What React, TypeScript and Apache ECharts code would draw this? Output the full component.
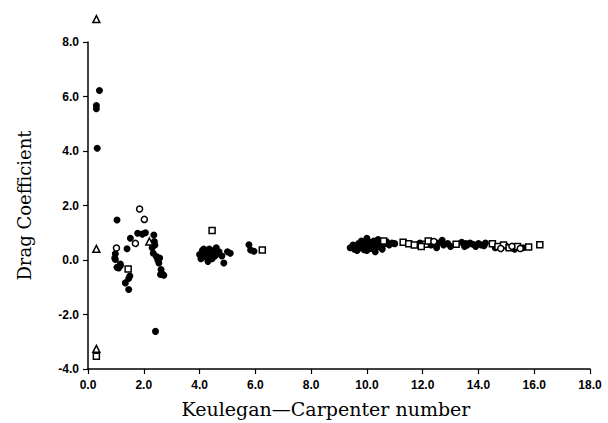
import React, { useEffect, useRef } from "react";
import * as echarts from "echarts";

const xTicks = [0, 2, 4, 6, 8, 10, 12, 14, 16, 18];
const yTicks = [-4, -2, 0, 2, 4, 6, 8];

const filledPoints: number[][] = [
  [0.41, 6.22], [0.3, 5.67], [0.3, 5.55], [0.33, 4.1],
  [1.04, 1.47], [1.78, 0.98], [2.06, 1.0], [2.36, 0.92], [2.38, 0.68], [1.52, 0.8],
  [1.4, 0.41], [0.98, 0.23], [0.96, 0.07], [0.98, 0.02], [1.16, -0.15], [1.1, -0.29],
  [1.04, -0.27], [1.16, -0.21], [2.34, 0.25], [2.45, 0.13], [2.5, 0.01], [2.57, 0.07],
  [2.54, -0.11], [2.62, -0.35], [2.66, -0.51], [2.72, -0.56], [2.6, -0.53], [1.5, -0.59],
  [1.46, -0.68], [1.34, -0.84], [1.46, -1.08], [2.42, -2.62], [2.3, 0.45], [2.4, 0.55], [1.95, 0.95],
  [4.0, 0.2], [4.05, 0.05], [4.1, 0.35], [4.15, 0.15], [4.2, 0.3], [4.25, 0.1], [4.3, 0.25],
  [4.35, 0.4], [4.4, 0.2], [4.45, 0.05], [4.5, 0.35], [4.55, 0.15], [4.6, 0.45], [4.65, 0.25],
  [4.7, 0.3], [4.8, 0.15], [4.87, -0.11], [5.0, 0.3], [5.1, 0.25], [4.15, 0.4], [4.3, -0.05],
  [5.83, 0.37], [5.95, 0.32], [5.77, 0.56],
  [9.4, 0.45], [9.5, 0.55], [9.55, 0.4], [9.6, 0.5], [9.7, 0.6], [9.75, 0.45], [9.8, 0.7],
  [9.85, 0.5], [9.9, 0.38], [9.95, 0.6], [10.0, 0.8], [10.05, 0.5], [10.1, 0.65], [10.15, 0.42],
  [10.2, 0.55], [10.25, 0.7], [10.3, 0.48], [10.35, 0.6], [10.4, 0.75], [10.45, 0.5], [10.5, 0.62],
  [10.55, 0.4], [10.6, 0.58], [10.7, 0.68], [10.8, 0.55], [10.9, 0.62], [11.0, 0.6], [10.0, 0.35],
  [10.3, 0.3], [9.65, 0.35],
  [11.9, 0.62], [12.3, 0.55], [12.5, 0.45], [12.55, 0.62], [12.7, 0.72], [12.75, 0.55], [12.9, 0.6],
  [13.0, 0.5], [13.55, 0.6], [13.4, 0.65], [13.5, 0.5], [13.6, 0.55], [13.7, 0.62], [13.8, 0.58],
  [13.9, 0.5], [14.0, 0.6], [14.1, 0.55], [14.2, 0.52], [14.25, 0.62], [14.6, 0.45], [15.0, 0.5],
  [15.3, 0.4], [15.6, 0.45],
];

const squarePoints: number[][] = [
  [11.3, 0.65], [11.5, 0.6], [11.7, 0.55], [12.1, 0.58], [12.2, 0.7], [11.95, 0.5], [13.2, 0.58],
  [14.5, 0.6], [14.7, 0.5], [14.9, 0.55], [15.1, 0.45], [15.4, 0.5], [15.8, 0.48], [16.2, 0.56],
  [4.45, 1.08], [6.25, 0.37], [1.44, -0.33], [0.3, -3.53], [10.6, 0.7],
];

const circlePoints: number[][] = [
  [1.85, 1.87], [2.02, 1.49], [1.02, 0.44], [1.7, 0.61], [14.8, 0.42], [15.2, 0.5], [15.5, 0.42], [12.4, 0.68],
];

const trianglePoints: number[][] = [
  [0.3, 8.84], [0.3, 0.41], [0.3, -3.26], [2.2, 0.68],
];

const xName = "Keulegan\u2014Carpenter number";
const yName = "Drag Coefficient";

export default function App() {
  const ref = useRef<HTMLDivElement>(null);
  useEffect(() => {
    if (!ref.current) return;
    const chart = echarts.init(ref.current, null, { renderer: "svg" });
    const labelStyle = {
      color: "#000",
      fontFamily: "Liberation Sans",
      fontWeight: "bold" as const,
      fontSize: 12,
    };
    const axisLine = { show: true, onZero: false, lineStyle: { color: "#000", width: 1.5 } };
    const base = { type: "scatter" as const, clip: false, symbolSize: 7 };
    const openStyle = { color: "#fff", borderColor: "#000", borderWidth: 1.5, opacity: 1 };
    chart.setOption({
      animation: false,
      backgroundColor: "#fff",
      grid: { left: 88, right: 18, top: 42, bottom: 51 },
      xAxis: {
        type: "value",
        min: 0,
        max: 18,
        interval: 2,
        name: xName,
        nameLocation: "middle",
        nameGap: 30,
        nameTextStyle: { fontFamily: "DejaVu Serif", fontSize: 19, color: "#000", padding: [0, 26, 0, 0] },
        axisLine,
        axisTick: { show: true, length: 5, lineStyle: { color: "#000", width: 1.2 } },
        axisLabel: { ...labelStyle, margin: 10, formatter: (v: number) => (xTicks.includes(v) ? v.toFixed(1) : "") },
        splitLine: { show: false },
      },
      yAxis: {
        type: "value",
        min: -4,
        max: 8,
        interval: 2,
        name: yName,
        nameLocation: "middle",
        nameGap: 55,
        nameTextStyle: { fontFamily: "DejaVu Serif", fontSize: 18, color: "#000" },
        axisLine,
        axisTick: { show: true, length: 5, lineStyle: { color: "#000", width: 1.2 } },
        axisLabel: { ...labelStyle, margin: 9, formatter: (v: number) => (yTicks.includes(v) ? v.toFixed(1) : "") },
        splitLine: { show: false },
      },
      series: [
        { ...base, name: "filled", data: filledPoints, symbol: "circle", itemStyle: { color: "#000", opacity: 1 } },
        { ...base, name: "square", data: squarePoints, symbol: "rect", symbolSize: 6, itemStyle: openStyle },
        { ...base, name: "circle", data: circlePoints, symbol: "circle", symbolSize: 6, itemStyle: openStyle },
        { ...base, name: "triangle", data: trianglePoints, symbol: "triangle", symbolSize: 7, itemStyle: openStyle },
      ],
    });
    return () => chart.dispose();
  }, []);
  return <div ref={ref} style={{ width: 608, height: 423, position: "absolute", left: 0, top: 0 }} />;
}
